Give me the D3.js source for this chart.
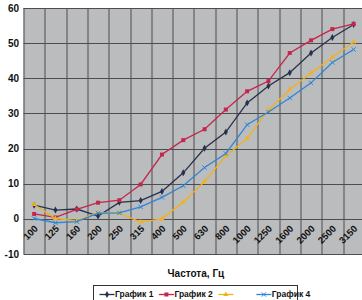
<!DOCTYPE html>
<html>
<head>
<meta charset="utf-8">
<script src="https://cdn.jsdelivr.net/npm/d3@7"></script>
<style>
  html, body { margin: 0; padding: 0; background: #ffffff; }
  svg { display: block; font-family: "Liberation Sans", Arial, sans-serif; }
</style>
</head>
<body>
<div id="chart"></div>
<script>
// Frequency bands (Hz)
const categories = ['100', '125', '160', '200', '250', '315', '400', '500', '630', '800',
  '1000', '1250', '1600', '2000', '2500', '3150'];

const series1 = [3.9, 2.5, 2.8, 0.8, 4.7, 5.2, 7.8, 13.1, 20.1, 24.7, 33.0, 37.8, 41.6, 47.2, 51.6, 55.3];
const series2 = [1.4, 0.4, 2.7, 4.6, 5.3, 9.8, 18.3, 22.4, 25.5, 31.1, 36.3, 39.2, 47.2, 50.8, 54.0, 55.5];
const series3 = [4.1, 0.1, -0.5, 1.8, 1.6, -0.9, 0.0, 4.8, 10.6, 17.9, 22.9, 31.0, 36.8, 41.5, 46.0, 50.3];
const series4 = [0.1, -1.1, -0.8, 1.6, 1.7, 3.4, 6.1, 9.4, 14.6, 18.6, 26.8, 30.4, 34.4, 38.7, 44.5, 48.2];

const seriesNames = ['График 1', 'График 2', '', 'График 4'];
const yTicks = [-10, 0, 10, 20, 30, 40, 50, 60];
const xTitle = 'Частота, Гц';

const W = 362, H = 300;
const margin = { top: 8, left: 23.5, bottom: 46 };
const plotW = 340.8;
const plotH = H - margin.top - margin.bottom;

const svg = d3.select('#chart').append('svg')
  .attr('width', W)
  .attr('height', H);

const g = svg.append('g')
  .attr('transform', `translate(${margin.left},${margin.top})`);

// Scales
const x = d3.scaleBand()
  .domain(categories)
  .range([0, plotW])
  .paddingInner(0)
  .paddingOuter(0);

const y = d3.scaleLinear()
  .domain([-10, 60])
  .range([plotH, 0]);

const cx = (c) => x(c) + x.bandwidth() / 2;

// Plot background
g.append('rect')
  .attr('width', plotW)
  .attr('height', plotH)
  .attr('fill', '#bbbcbe');

// Horizontal grid
g.append('g')
  .selectAll('line')
  .data(yTicks)
  .enter()
  .append('line')
  .attr('x1', 0)
  .attr('x2', plotW)
  .attr('y1', (d) => Math.round(y(d)) + 0.5)
  .attr('y2', (d) => Math.round(y(d)) + 0.5)
  .attr('stroke', '#4d4d4f')
  .attr('stroke-width', 1);

// Vertical grid at category boundaries
g.append('g')
  .selectAll('line')
  .data(categories)
  .enter()
  .append('line')
  .attr('x1', (d) => Math.round(x(d)) + 0.5)
  .attr('x2', (d) => Math.round(x(d)) + 0.5)
  .attr('y1', 0)
  .attr('y2', plotH)
  .attr('stroke', '#4d4d4f')
  .attr('stroke-width', 1);

// Y axis labels
svg.append('g')
  .selectAll('text')
  .data(yTicks)
  .enter()
  .append('text')
  .attr('x', 19)
  .attr('y', (d) => margin.top + y(d))
  .attr('dy', '0.35em')
  .attr('text-anchor', 'end')
  .attr('font-size', '10px')
  .attr('font-weight', 'bold')
  .attr('fill', '#111')
  .text((d) => d);

// X axis labels, sitting under the zero line
const y0 = y(0);
g.append('g')
  .selectAll('text')
  .data(categories)
  .enter()
  .append('text')
  .attr('transform', (d) => `translate(${cx(d) + 2},${y0 + 8}) rotate(-45)`)
  .attr('text-anchor', 'end')
  .attr('dy', '0.35em')
  .attr('font-size', '9.5px')
  .attr('font-weight', 'bold')
  .attr('fill', '#111')
  .text((d) => d);

// Axis title
svg.append('text')
  .attr('x', margin.left + plotW / 2 + 2)
  .attr('y', 277)
  .attr('text-anchor', 'middle')
  .attr('font-size', '10px')
  .attr('font-weight', 'bold')
  .attr('fill', '#111')
  .text(xTitle);

// Series
const styles = [
  { data: series1, color: '#27314d', marker: d3.symbolDiamond, size: 14 },
  { data: series2, color: '#c4264c', marker: d3.symbolSquare, size: 16 },
  { data: series3, color: '#f1b31d', marker: d3.symbolTriangle, size: 12 },
  { data: series4, color: '#2f86d6', marker: d3.symbolTimes, size: 14 },
];

const line = d3.line()
  .x((d, i) => cx(categories[i]))
  .y((d) => y(d));

styles.forEach((s) => {
  g.append('path')
    .datum(s.data)
    .attr('fill', 'none')
    .attr('stroke', s.color)
    .attr('stroke-width', 1.3)
    .attr('d', line);

  const sym = d3.symbol().type(s.marker).size(s.size);
  g.append('g')
    .selectAll('path')
    .data(s.data)
    .enter()
    .append('path')
    .attr('transform', (d, i) => `translate(${cx(categories[i])},${y(d)})`)
    .attr('d', sym)
    .attr('fill', s.marker === d3.symbolTimes ? 'none' : s.color)
    .attr('stroke', s.marker === d3.symbolTimes ? s.color : 'none')
    .attr('stroke-width', 1);
});

// Legend (bottom, partly cut off by the frame edge)
const legend = svg.append('g').attr('transform', 'translate(93.5,285.5)');
legend.append('rect')
  .attr('width', 204)
  .attr('height', 24)
  .attr('fill', '#ffffff')
  .attr('stroke', '#333')
  .attr('stroke-width', 1);

let lx = 6;
seriesNames.forEach((name, i) => {
  const s = styles[i];
  const item = legend.append('g').attr('transform', `translate(${lx},9)`);
  item.append('line')
    .attr('x1', 0)
    .attr('x2', 15)
    .attr('stroke', s.color)
    .attr('stroke-width', 1.3);
  item.append('path')
    .attr('transform', 'translate(7.5,0)')
    .attr('d', d3.symbol().type(s.marker).size(s.size)())
    .attr('fill', s.marker === d3.symbolTimes ? 'none' : s.color)
    .attr('stroke', s.marker === d3.symbolTimes ? s.color : 'none');
  const t = item.append('text')
    .attr('x', 15.5)
    .attr('dy', '0.35em')
    .attr('font-size', '8.5px')
    .attr('font-weight', 'bold')
    .attr('fill', '#111')
    .text(name);
  const tw = name ? t.node().getComputedTextLength() : 17;
  lx += 15.5 + tw + 5.5;
});
</script>
</body>
</html>
